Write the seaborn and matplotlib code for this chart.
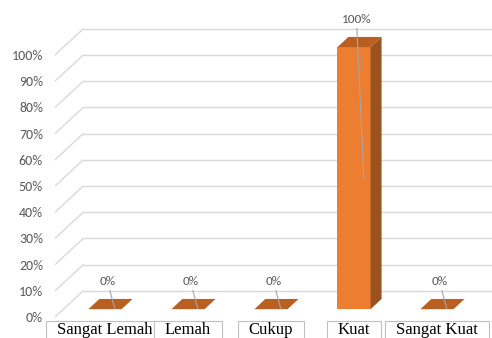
import numpy as np
import pandas as pd
import seaborn as sns
import matplotlib.pyplot as plt
from matplotlib.patches import Polygon, Rectangle
from matplotlib.ticker import PercentFormatter
from matplotlib import font_manager as fm

## data
categories = ["Sangat Lemah", "Lemah", "Cukup", "Kuat", "Sangat Kuat"]
values = [0, 0, 0, 100, 0]
y_ticks = list(range(0, 101, 10))

sns.set_theme(style="white")
installed = set(f.name for f in fm.fontManager.ttflist)
sans = "Carlito" if "Carlito" in installed else "Lato"
plt.rcParams["font.family"] = [sans, "DejaVu Sans"]

front_c = "#ED7D31"
top_c = "#BA5F22"
side_c = "#9C5220"
grid_c = "#D9D9D9"
text_c = "#595959"

## 3d look: offset of the back wall, bar position in depth and bar depth
DX, DY = 0.34, 10.0
D0, T = 0.3, 0.39

fig = plt.figure(figsize=(4.92, 3.38), dpi=100)
ax = fig.add_axes([55 / 492, 0, 437 / 492, 1])
ax.patch.set_visible(False)

df = pd.DataFrame({"kategori": categories, "nilai": values})
sns.barplot(data=df, x="kategori", y="nilai", color=front_c, width=0.4,
            saturation=1, linewidth=0, ax=ax, zorder=2)

bars = list(ax.patches)
for p in bars:
    # push the front face back a bit into the box
    p.set_x(p.get_x() + D0 * DX)
    p.set_y(p.get_y() + D0 * DY)
    x0, y0 = p.get_x(), p.get_y()
    x1, y1 = x0 + p.get_width(), y0 + p.get_height()
    top = [(x0, y1), (x1, y1), (x1 + T * DX, y1 + T * DY), (x0 + T * DX, y1 + T * DY)]
    ax.add_patch(Polygon(top, closed=True, fc=top_c, ec="none", zorder=2))
    if p.get_height() > 0:
        side = [(x1, y0), (x1 + T * DX, y0 + T * DY), (x1 + T * DX, y1 + T * DY), (x1, y1)]
        ax.add_patch(Polygon(side, closed=True, fc=side_c, ec="none", zorder=2))

## gridlines on the back wall + the diagonal side wall
xl = -0.5
for t in y_ticks:
    ax.plot([xl, xl + DX], [t, t + DY], color=grid_c, lw=1, zorder=0.5)
    ax.plot([xl + DX, 6], [t + DY, t + DY], color=grid_c, lw=1, zorder=0.5)

ax.set_xlim(-0.5, 4.765)
ax.set_ylim(-8.0, 121.0)
ax.set_yticks(y_ticks)
ax.yaxis.set_major_formatter(PercentFormatter(100, decimals=0))
ax.tick_params(axis="y", length=0, pad=8.6, labelsize=10, labelcolor=text_c)
ax.set_xticks([])
ax.set_xlabel("")
ax.set_ylabel("")
sns.despine(ax=ax, left=True, bottom=True)

## data labels with leader lines
for p, v in zip(bars, values):
    cx = p.get_x() + p.get_width() / 2
    ax.annotate(f"{v}%", xy=(p.get_x() + p.get_width() * 0.8, p.get_y() + v / 2),
                xytext=(cx + 0.03, v + 13.5), ha="center", va="center",
                fontsize=9.5, color=text_c,
                arrowprops=dict(arrowstyle="-", color="#A6A6A6", lw=0.8,
                                shrinkA=0, shrinkB=0), zorder=3)

## category labels in boxes (Times-like serif)
labels = []
for i, c in enumerate(categories):
    t = ax.text(i + D0 * DX, 4 / 338, c, transform=ax.get_xaxis_transform(),
                ha="center", va="baseline", family="Liberation Serif", fontsize=12,
                color="black", zorder=5)
    labels.append(t)

fig.canvas.draw()
r = fig.canvas.get_renderer()
inv = fig.transFigure.inverted()
for t in labels:
    bb = t.get_window_extent(r)
    (fx0, fy0) = inv.transform((bb.x0 - 11, -5))
    (fx1, fy1) = inv.transform((bb.x1 + 11, bb.y1 + 1))
    fig.add_artist(Rectangle((fx0, fy0), fx1 - fx0, fy1 - fy0, transform=fig.transFigure,
                             fc="white", ec="#BFBFBF", lw=0.8, zorder=-1))

fig.savefig("out.png", dpi=100, facecolor="white")
